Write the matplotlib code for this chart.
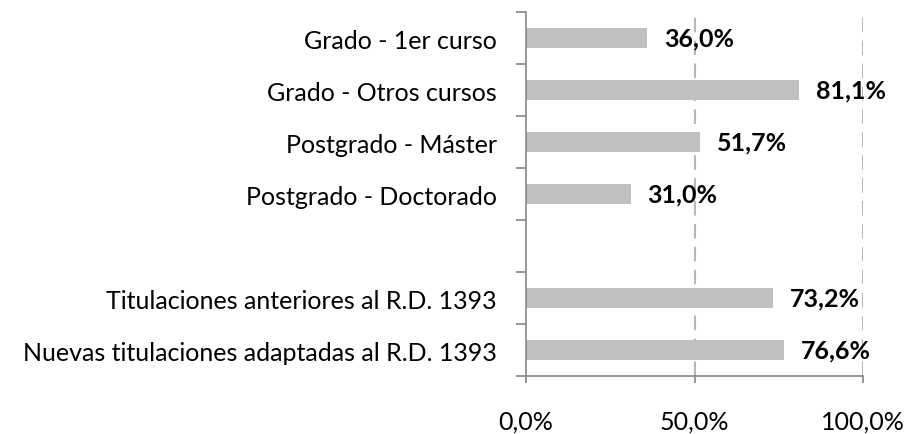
import matplotlib.pyplot as plt
import numpy as np

# data (top to bottom), empty slot between the two groups
categories = ['Grado - 1er curso', 'Grado - Otros cursos', 'Postgrado - Máster',
              'Postgrado - Doctorado', '', 'Titulaciones anteriores al R.D. 1393',
              'Nuevas titulaciones adaptadas al R.D. 1393']
values = [36.0, 81.1, 51.7, 31.0, None, 73.2, 76.6]
xticks = [0, 50, 100]
xticklabels = ['0,0%', '50,0%', '100,0%']

plt.rcParams['font.family'] = ['Lato', 'DejaVu Sans']

fig = plt.figure(figsize=(9.12, 4.35), dpi=100)
ax = fig.add_axes([0.5768, 0.1333, 0.9463 - 0.5768, 0.970 - 0.1333])

n = len(categories)
ypos = np.arange(n)
for y, v in zip(ypos, values):
    if v is None:
        continue
    ax.barh(y, v, height=0.4, color='#c0c0c0', zorder=2)
    ax.text(v + 5, y, f'{v:.1f}%'.replace('.', ','), va='center', ha='left',
            fontsize=18, fontweight='bold', clip_on=False, zorder=3)

ax.set_xlim(0, 100)
ax.set_ylim(n - 0.5, -0.5)

# dashed vertical gridlines
for x in xticks[1:]:
    ax.axvline(x, color='#b8b8b8', lw=1.5, ls=(0, (7, 4)), zorder=1)

ax.set_yticks(ypos)
ax.set_yticklabels(categories, fontsize=18)
ax.set_yticks(np.arange(n + 1) - 0.5, minor=True)
ax.tick_params(axis='y', which='major', length=0, pad=21)
ax.tick_params(axis='y', which='minor', length=7, color='#868686', width=1.2)

ax.set_xticks(xticks)
ax.set_xticklabels(xticklabels, fontsize=18)
ax.tick_params(axis='x', length=5, color='#868686', width=1.2, pad=19)

for s in ['top', 'right']:
    ax.spines[s].set_visible(False)
for s in ['left', 'bottom']:
    ax.spines[s].set_color('#868686')
    ax.spines[s].set_linewidth(1.2)

plt.savefig('out.png', dpi=100)
